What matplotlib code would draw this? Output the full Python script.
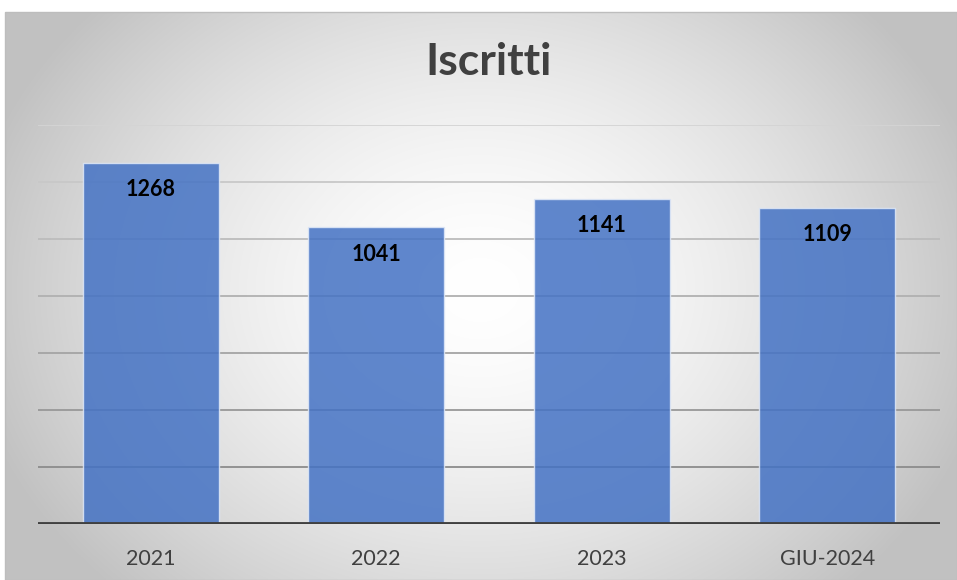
import numpy as np
import matplotlib
matplotlib.use("Agg")
import matplotlib.pyplot as plt
from matplotlib.patches import Rectangle

categories = ["2021", "2022", "2023", "GIU-2024"]
values = [1268, 1041, 1141, 1109]
title = "Iscritti"
grid_ticks = [200, 400, 600, 800, 1000, 1200, 1400]

W, H = 957, 580
fig = plt.figure(figsize=(W / 100, H / 100), dpi=100)
fig.patch.set_facecolor("white")

# background with radial gradient
bg = fig.add_axes([0, 0, 1, 1])
bg.set_xlim(0, W)
bg.set_ylim(H, 0)
bg.axis("off")
x0, x1, y0, y1 = 5, W, 12, H
xx, yy = np.meshgrid(np.linspace(x0, x1, 400), np.linspace(y0, y1, 250))
cx, cy = 480, 290
r = np.sqrt(((xx - cx) / 520) ** 2 + ((yy - cy) / 420) ** 2)
r = np.clip(r, 0, 1)
val = 1.0 - 0.24 * r ** 1.6
img = np.dstack([val, val, val])
bg.imshow(img, extent=[x0, x1, y1, y0], aspect="auto", interpolation="bilinear", zorder=0)
bg.add_patch(Rectangle((x0, y0), x1 - x0, y1 - y0, fill=False, edgecolor="#bdbdbd", lw=1, zorder=1))

ax = fig.add_axes([38 / W, 56 / H, 902 / W, (524 - 125) / H])
ax.patch.set_alpha(0)
ax.set_xlim(-0.5, 3.5)
ax.set_ylim(0, 1400)
for s in ax.spines.values():
    s.set_visible(False)
ax.set_yticks([])

# gridlines: darker towards bottom
for t in grid_ticks:
    f = t / 1400
    g = 0.50 + 0.33 * f
    ax.axhline(t, color=(g, g, g), lw=1.3, zorder=1)

x = np.arange(len(categories))
ax.bar(x, values, width=0.603, color="#4472C4", alpha=0.85, edgecolor="#dfe8f7", lw=1.0, zorder=2)
ax.axhline(0, color="#404040", lw=3.5, zorder=3)

for xi, v in zip(x, values):
    ax.annotate(str(v), (xi, v), xytext=(0, -27), textcoords="offset pixels",
                ha="center", va="center", fontsize=15.5, fontweight="bold", color="black",
                family=["Lato", "DejaVu Sans"], zorder=4)

ax.set_xticks(x)
ax.set_xticklabels(categories, fontsize=15.5, color="#404040", family=["Lato", "DejaVu Sans"])
ax.tick_params(axis="x", length=0, pad=18)

fig.text(489 / W, 1 - 62 / H, title, ha="center", va="center", fontsize=32, fontweight="bold",
         color="#404040", family=["Lato", "DejaVu Sans"])

fig.savefig("out.png", dpi=100)
